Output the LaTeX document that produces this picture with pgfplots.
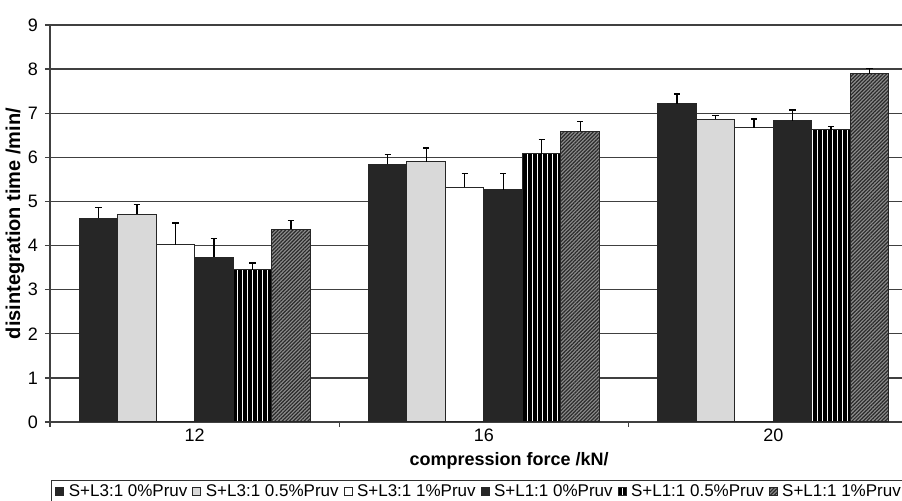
\documentclass[border=0pt]{standalone}
\usepackage{fontspec}
\setmainfont{Liberation Sans}
\usepackage{pgfplots}
\pgfplotsset{compat=1.18}
\usetikzlibrary{patterns.meta}

\definecolor{barDark}{HTML}{262626}
\definecolor{barLight}{HTML}{D9D9D9}
\definecolor{hatchBg}{HTML}{8C8C8C}
\definecolor{hatchFg}{HTML}{2A2A2A}
\definecolor{gridc}{HTML}{404040}

\pgfplotsset{
  errb/.style={
    error bars/.cd, y dir=plus, y explicit,
    error bar style={black, line width=0.6pt},
    error mark options={rotate=90, black, mark size=1.6pt, line width=0.7pt}
  }
}

\begin{document}
\begin{tikzpicture}
\useasboundingbox (0,0) rectangle (451pt,250.5pt);
\begin{axis}[
  at={(25pt,39.5pt)}, anchor=south west,
  scale only axis, width=434pt, height=198.5pt,
  ybar=0pt, bar width=19.25pt,
  xmin=-0.5, xmax=2.5, ymin=0, ymax=9,
  ytick={0,1,2,3,4,5,6,7,8,9},
  xtick={-0.5,0.5,1.5,2.5}, xticklabels={},
  extra x ticks={0,1,2}, extra x tick labels={12,16,20},
  extra x tick style={major tick length=0pt, grid=none},
  tick align=outside, major tick length=2.5pt,
  xtick pos=left, ytick pos=left,
  ymajorgrids, grid style={gridc, line width=0.7pt},
  axis line style={gridc, line width=0.7pt},
  tick style={gridc, line width=0.7pt},
  /pgf/number format/assume math mode=true,
  tick label style={font=\fontsize{9}{10}\selectfont},
  xlabel={compression force /kN/},
  ylabel={disintegration time /min/},
  every axis x label/.style={at={(axis description cs:0.529,-0.0756)}, anchor=north, inner sep=0pt, font=\bfseries\fontsize{9}{11}\selectfont},
  every axis y label/.style={at={(axis description cs:-0.0403,0.5)}, rotate=90, anchor=center, font=\bfseries\fontsize{10}{12}\selectfont},
  legend columns=6,
  legend image code/.code={\draw[#1] (0pt,-2pt) rectangle (4pt,2pt); \path (5.2pt,0pt);},
  legend style={at={(0.001,-0.146)}, anchor=north west, draw=black!80, line width=0.6pt,
    font=\fontsize{8.5}{9}\selectfont, inner xsep=2pt, inner ysep=0.8pt,
    nodes={inner sep=1pt},
    /tikz/every even column/.append style={column sep=1.5pt}},
]
\addplot[fill=barDark, draw=black!85, line width=0.5pt, errb] coordinates {
  (0,4.62) +- (0,0.24)
  (1,5.84) +- (0,0.22)
  (2,7.22) +- (0,0.22)
};
\addplot[fill=barLight, draw=black!85, line width=0.5pt, errb] coordinates {
  (0,4.71) +- (0,0.22)
  (1,5.90) +- (0,0.31)
  (2,6.86) +- (0,0.09)
};
\addplot[fill=white, draw=black!85, line width=0.5pt, errb] coordinates {
  (0,4.02) +- (0,0.49)
  (1,5.32) +- (0,0.31)
  (2,6.67) +- (0,0.20)
};
\addplot[fill=barDark, draw=black!85, line width=0.5pt, errb] coordinates {
  (0,3.74) +- (0,0.42)
  (1,5.27) +- (0,0.36)
  (2,6.83) +- (0,0.24)
};
\addplot[fill=white, draw=black!85, line width=0.5pt,
  postaction={pattern={Lines[angle=90,distance=2.5pt,line width=1.8pt]}, pattern color=black}, errb] coordinates {
  (0,3.45) +- (0,0.15)
  (1,6.08) +- (0,0.32)
  (2,6.63) +- (0,0.07)
};
\addplot[fill=hatchBg, draw=black!85, line width=0.5pt,
  postaction={pattern={Lines[angle=45,distance=1.3pt,line width=0.6pt]}, pattern color=hatchFg}, errb] coordinates {
  (0,4.37) +- (0,0.20)
  (1,6.59) +- (0,0.22)
  (2,7.89) +- (0,0.13)
};
\legend{S+L3:1 0\%Pruv, S+L3:1 0.5\%Pruv, S+L3:1 1\%Pruv, S+L1:1 0\%Pruv, S+L1:1 0.5\%Pruv, S+L1:1 1\%Pruv}
\end{axis}
\end{tikzpicture}
\end{document}
